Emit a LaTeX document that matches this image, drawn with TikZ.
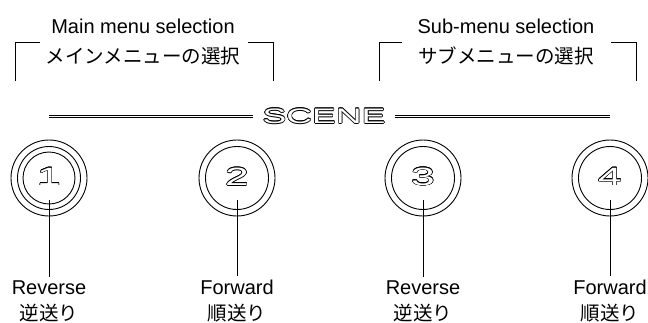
\documentclass[tikz,border=0pt]{standalone}
\usepackage{fontspec}
\setmainfont{Liberation Sans}
\newfontfamily\jpfont{Noto Sans CJK JP}
\newfontfamily\widefont[FakeStretch=1.7]{Liberation Sans}
\usepackage{contour}
\contourlength{0.55pt}
\usetikzlibrary{positioning}

\begin{document}
\begin{tikzpicture}[x=1pt,y=-1pt,line width=0.9pt,
  every node/.style={inner sep=0pt,font=\fontsize{20}{24}\selectfont},
  ring/.style={circle,draw,line width=0.9pt,minimum size=76pt},
  num/.style={font=\widefont\fontsize{25}{24}\selectfont},
  lbl/.style={anchor=base,inner ysep=2.7pt},
  jp/.style={anchor=base,font=\jpfont\fontsize{19.5}{24}\selectfont},
  rail/.style={double,double distance=1.2pt,line width=0.75pt}]
\useasboundingbox (0,0) rectangle (648,322);

% menu headings
\node[anchor=base] (mainen) at (143,33) {Main menu selection};
\node[jp] (mainjp) at (143,63) {メインメニューの選択};
\node[anchor=base] (suben) at (506,33) {Sub-menu selection};
\node[jp] (subjp) at (506,63) {サブメニューの選択};
\draw (15,81) |- (40,42);
\draw (248,42) -| (273,81);
\draw (379,81) |- (402,42);
\draw (611,42) -| (636,81);

% buttons
\node[ring] (b1) at (49,178) {};
\draw (b1.center) circle[radius=31.5pt];
\draw (b1.center) circle[radius=26pt];
\node[num] (n1) at (49,177) {\color{white}\contour{black}{1}};
\node[ring] (b2) at (237,178) {};
\draw (b2.center) circle[radius=31.5pt];
\node[num] (n2) at (237,177) {\color{white}\contour{black}{2}};
\node[ring] (b3) at (423,178) {};
\draw (b3.center) circle[radius=31.5pt];
\node[num] (n3) at (423,177) {\color{white}\contour{black}{3}};
\node[ring] (b4) at (610,178) {};
\draw (b4.center) circle[radius=31.5pt];
\node[num] (n4) at (610,177) {\color{white}\contour{black}{4}};

% scene bar
\node[font=\widefont\fontsize{21}{24}\selectfont,inner xsep=9pt] (scene) at (324,116.5)
  {\color{white}\contour{black}{SCENE}};
\draw[rail] (b1 |- scene) -- (scene);
\draw[rail] (scene) -- (b4 |- scene);

% labels
\node[lbl] (rev1) at (49,294) {Reverse};
\node[jp] (rev1jp) at (49,320.5) {逆送り};
\node[lbl] (fwd2) at (237,294) {Forward};
\node[jp] (fwd2jp) at (237,320.5) {順送り};
\node[lbl] (rev3) at (423,294) {Reverse};
\node[jp] (rev3jp) at (423,320.5) {逆送り};
\node[lbl] (fwd4) at (610,294) {Forward};
\node[jp] (fwd4jp) at (610,320.5) {順送り};
\coordinate (s1) at (49,200);
\coordinate (s2) at (237,200);
\coordinate (s3) at (423,200);
\coordinate (s4) at (610,200);
\draw (s1) -- (rev1);
\draw (s2) -- (fwd2);
\draw (s3) -- (rev3);
\draw (s4) -- (fwd4);
\end{tikzpicture}
\end{document}
